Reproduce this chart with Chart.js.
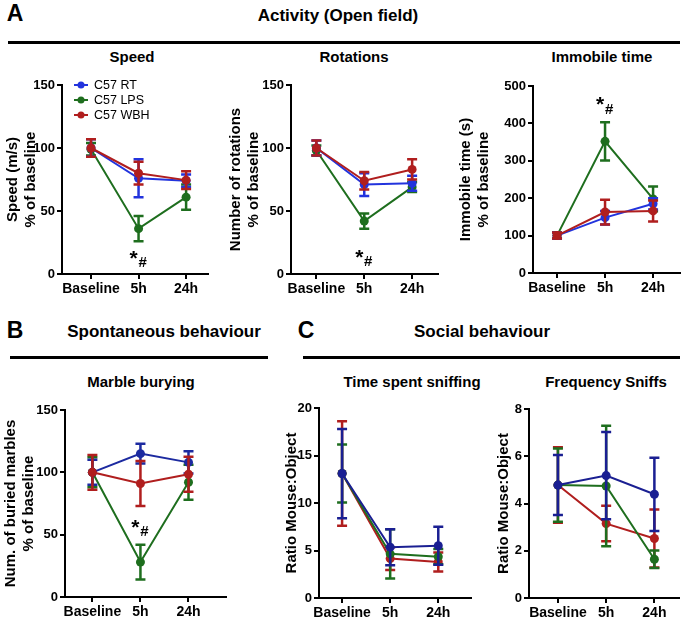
<!DOCTYPE html>
<html><head><meta charset="utf-8">
<script src="https://cdn.jsdelivr.net/npm/chart.js@4"></script>
<style>
html,body{margin:0;padding:0;background:#fff;}
body{width:685px;height:620px;position:relative;overflow:hidden;font-family:"Liberation Sans",Arial,sans-serif;color:#000;}
.t{position:absolute;font-weight:bold;white-space:nowrap;transform:translate(-50%,-50%);line-height:1;}
.hl{position:absolute;height:3px;background:#000;}
canvas{position:absolute;}
</style></head><body>
<div class="t" style="left:15px;top:13px;font-size:23px">A</div>
<div class="t" style="left:338px;top:15px;font-size:17px">Activity (Open field)</div>
<div class="hl" style="left:8px;top:41px;width:672px"></div>
<div class="t" style="left:132px;top:56px;font-size:15px">Speed</div>
<div class="t" style="left:354px;top:56px;font-size:15px">Rotations</div>
<div class="t" style="left:602px;top:56px;font-size:15px">Immobile time</div>
<div class="t" style="left:15px;top:330px;font-size:23px">B</div>
<div class="t" style="left:164px;top:331px;font-size:17px">Spontaneous behaviour</div>
<div class="hl" style="left:10px;top:356px;width:258px"></div>
<div class="t" style="left:306px;top:330px;font-size:23px">C</div>
<div class="t" style="left:482px;top:331px;font-size:17px">Social behaviour</div>
<div class="hl" style="left:303px;top:356px;width:377px"></div>
<div class="t" style="left:141px;top:381px;font-size:15px">Marble burying</div>
<div class="t" style="left:412px;top:381px;font-size:15px">Time spent sniffing</div>
<div class="t" style="left:606px;top:381px;font-size:15px">Frequency Sniffs</div>
<script>
// ---------- data ----------
const timepoints = ['Baseline', '5h', '24h'];
const groups = ['C57 RT', 'C57 LPS', 'C57 WBH'];

const speedRT = [100, 76, 74];      const speedRTerr = [7, 15, 5];
const speedLPS = [99, 36, 61];      const speedLPSerr = [5, 10, 10];
const speedWBH = [100, 80, 74.5];   const speedWBHerr = [7, 9, 7];

const rotRT = [100, 71, 72];        const rotRTerr = [6, 9, 6];
const rotLPS = [98, 42, 69];        const rotLPSerr = [4, 6, 4];
const rotWBH = [100, 74, 83];       const rotWBHerr = [6, 7, 8];

const immRT = [100, 148, 185];      const immRTerr = [8, 18, 15];
const immLPS = [100, 352, 198];     const immLPSerr = [8, 51, 33];
const immWBH = [100, 163, 166];     const immWBHerr = [8, 33, 28];

const marbRT = [100, 115, 108];     const marbRTerr = [10, 8, 9];
const marbLPS = [100, 28, 92];      const marbLPSerr = [12, 14, 14];
const marbWBH = [100, 91, 98.5];    const marbWBHerr = [14, 18, 14];

const sniffRT = [13.1, 5.35, 5.5];  const sniffRTerr = [4.7, 1.9, 2.0];
const sniffLPS = [13.1, 4.65, 4.35];const sniffLPSerr = [3.05, 2.6, 0.8];
const sniffWBH = [13.1, 4.15, 3.8]; const sniffWBHerr = [5.5, 1.2, 1.0];

const freqRT = [4.78, 5.18, 4.39];  const freqRTerr = [1.27, 1.85, 1.55];
const freqLPS = [4.78, 4.74, 1.64]; const freqLPSerr = [1.55, 2.55, 0.37];
const freqWBH = [4.78, 3.15, 2.52]; const freqWBHerr = [1.6, 0.75, 1.23];

// significance marks: [time index, value]
const speedMark = [1, 11];
const rotMark = [1, 12];
const immMark = [1, 445];
const marbMark = [1, 54.5];

// ---------- styling ----------
const FONT = '"Liberation Sans", Arial, sans-serif';
Chart.defaults.font.family = FONT;
Chart.defaults.color = '#000';
const BLUE_A = '#2233dd', BLUE_C = '#1a1f92', GREEN = '#1e6e1e', RED = '#b01e1e';

const errorBarPlugin = {
  id: 'errbars',
  afterDatasetDraw(chart, args) {
    const ds = chart.data.datasets[args.index];
    if (!ds.errors) return;
    const ctx = chart.ctx, ys = chart.scales.y;
    ctx.save();
    ctx.strokeStyle = ds.borderColor;
    ctx.lineWidth = 2.5;
    args.meta.data.forEach((pt, i) => {
      const v = ds.data[i].y, e = ds.errors[i];
      const t = ys.getPixelForValue(v + e), b = ys.getPixelForValue(v - e);
      ctx.beginPath();
      ctx.moveTo(pt.x, t); ctx.lineTo(pt.x, b);
      ctx.moveTo(pt.x - 5, t); ctx.lineTo(pt.x + 5, t);
      ctx.moveTo(pt.x - 5, b); ctx.lineTo(pt.x + 5, b);
      ctx.stroke();
    });
    ctx.restore();
  }
};

const markPlugin = {
  id: 'marks',
  afterDraw(chart) {
    const m = chart.options.plugins.marks;
    if (!m || !m.at) return;
    const ctx = chart.ctx;
    const px = chart.scales.x.getPixelForValue(m.at[0]);
    const py = chart.scales.y.getPixelForValue(m.at[1]);
    ctx.save();
    ctx.fillStyle = '#000';
    ctx.textAlign = 'center';
    ctx.textBaseline = 'middle';
    ctx.font = 'bold 21px ' + FONT;
    ctx.fillText('*', px - 5, py - 1);
    ctx.font = 'bold 15px ' + FONT;
    ctx.fillText('#', px + 4, py + 3);
    ctx.restore();
  }
};

const legendPlugin = {
  id: 'innerLegend',
  afterDraw(chart) {
    const o = chart.options.plugins.innerLegend;
    if (!o || !o.show) return;
    const ctx = chart.ctx, ca = chart.chartArea;
    ctx.save();
    ctx.font = '12.5px ' + FONT;
    ctx.textBaseline = 'middle';
    ctx.textAlign = 'left';
    const byLabel = {};
    chart.data.datasets.forEach(d => byLabel[d.label] = d);
    groups.forEach((g, i) => {
      const d = byLabel[g];
      const y = ca.top + i * 15;
      const x0 = ca.left + 12;
      ctx.strokeStyle = d.borderColor; ctx.lineWidth = 2;
      ctx.beginPath(); ctx.moveTo(x0, y); ctx.lineTo(x0 + 14, y); ctx.stroke();
      ctx.fillStyle = d.borderColor;
      ctx.beginPath(); ctx.arc(x0 + 7, y, 3.5, 0, Math.PI * 2); ctx.fill();
      ctx.fillStyle = '#000';
      ctx.fillText(g, x0 + 20, y + 0.5);
    });
    ctx.restore();
  }
};

function makePanel(p) {
  const fs = 15, lh = 1.25, tpad = 2, padTop = 12, Xh = 30;
  const cl = Math.round(p.titleX - fs * lh / 2 - tpad);
  const Yw = p.axisX - cl;
  const w = p.right - cl, h = p.bottom - p.top + padTop + Xh;
  const cv = document.createElement('canvas');
  cv.width = w; cv.height = h;
  cv.style.left = cl + 'px'; cv.style.top = (p.top - padTop) + 'px';
  cv.style.width = w + 'px'; cv.style.height = h + 'px';
  document.body.appendChild(cv);
  const grid = {drawOnChartArea: false, drawTicks: true, tickLength: 5, color: '#000', lineWidth: 2};
  const border = {display: true, color: '#000', width: 2};
  const datasets = p.series.map((s, i) => ({
    label: groups[i],
    data: s.v.map((v, j) => ({x: j, y: v})),
    errors: s.e,
    borderColor: s.c, backgroundColor: s.c,
    pointBackgroundColor: s.c, pointBorderColor: s.c,
    pointRadius: 4.5, pointBorderWidth: 0, pointHoverRadius: 4.5,
    borderWidth: 2, tension: 0, order: s.o, clip: false
  }));
  new Chart(cv, {
    type: 'line',
    data: {datasets},
    plugins: [errorBarPlugin, markPlugin, legendPlugin],
    options: {
      responsive: false, animation: false, devicePixelRatio: 1,
      layout: {padding: {top: padTop, right: 0, bottom: 0, left: 0}},
      plugins: {
        legend: {display: false}, tooltip: {enabled: false},
        marks: {at: p.mark}, innerLegend: {show: !!p.legend}
      },
      scales: {
        x: {
          type: 'linear', min: p.xmin, max: p.xmax,
          ticks: {stepSize: 1, includeBounds: false, autoSkip: false, maxRotation: 0,
            color: '#000', padding: 2, font: {size: 14, weight: 'bold'},
            callback: v => timepoints[v] !== undefined ? timepoints[v] : ''},
          grid, border,
          afterFit: s => { s.height = Xh; }
        },
        y: {
          type: 'linear', min: 0, max: p.ymax,
          ticks: {stepSize: p.ystep, color: '#000', padding: 2, font: {size: 13, weight: 'bold'}},
          grid, border,
          title: {display: true, text: p.ytitle, color: '#000',
            font: {size: fs, weight: 'bold', lineHeight: lh}, padding: {top: tpad, bottom: 0}},
          afterFit: s => { s.width = Yw; }
        }
      }
    }
  });
}

const ordA = [1, 2, 0], ordC = [0, 1, 2];
function series(vals, errs, blue, ord) {
  const cols = [blue, GREEN, RED];
  return vals.map((v, i) => ({v, e: errs[i], c: cols[i], o: ord[i]}));
}

makePanel({axisX: 62, right: 212, top: 85, bottom: 274, titleX: 12,
  xmin: -0.61, xmax: 2.45, ymax: 150, ystep: 50, ytitle: ['Speed (m/s)', '% of baseline'],
  series: series([speedRT, speedLPS, speedWBH], [speedRTerr, speedLPSerr, speedWBHerr], BLUE_A, ordA),
  mark: speedMark, legend: true});
makePanel({axisX: 291, right: 442, top: 85, bottom: 274, titleX: 235,
  xmin: -0.53, xmax: 2.53, ymax: 150, ystep: 50, ytitle: ['Number of rotations', '% of baseline'],
  series: series([rotRT, rotLPS, rotWBH], [rotRTerr, rotLPSerr, rotWBHerr], BLUE_A, ordA),
  mark: rotMark});
makePanel({axisX: 533, right: 684, top: 86, bottom: 273, titleX: 465,
  xmin: -0.5, xmax: 2.55, ymax: 500, ystep: 100, ytitle: ['Immobile time (s)', '% of baseline'],
  series: series([immRT, immLPS, immWBH], [immRTerr, immLPSerr, immWBHerr], BLUE_A, ordA),
  mark: immMark});
makePanel({axisX: 65, right: 230, top: 410, bottom: 597, titleX: 10,
  xmin: -0.57, xmax: 2.77, ymax: 150, ystep: 50, ytitle: ['Num. of buried marbles', '% of baseline'],
  series: series([marbRT, marbLPS, marbWBH], [marbRTerr, marbLPSerr, marbWBHerr], '#1c2aa0', ordA),
  mark: marbMark});
makePanel({axisX: 319, right: 475, top: 408, bottom: 598, titleX: 291,
  xmin: -0.48, xmax: 2.67, ymax: 20, ystep: 5, ytitle: 'Ratio Mouse:Object',
  series: series([sniffRT, sniffLPS, sniffWBH], [sniffRTerr, sniffLPSerr, sniffWBHerr], BLUE_C, ordC)});
makePanel({axisX: 529, right: 683, top: 409, bottom: 598, titleX: 503,
  xmin: -0.6, xmax: 2.5, ymax: 8, ystep: 2, ytitle: 'Ratio Mouse:Object',
  series: series([freqRT, freqLPS, freqWBH], [freqRTerr, freqLPSerr, freqWBHerr], BLUE_C, ordC)});
</script>
</body></html>
